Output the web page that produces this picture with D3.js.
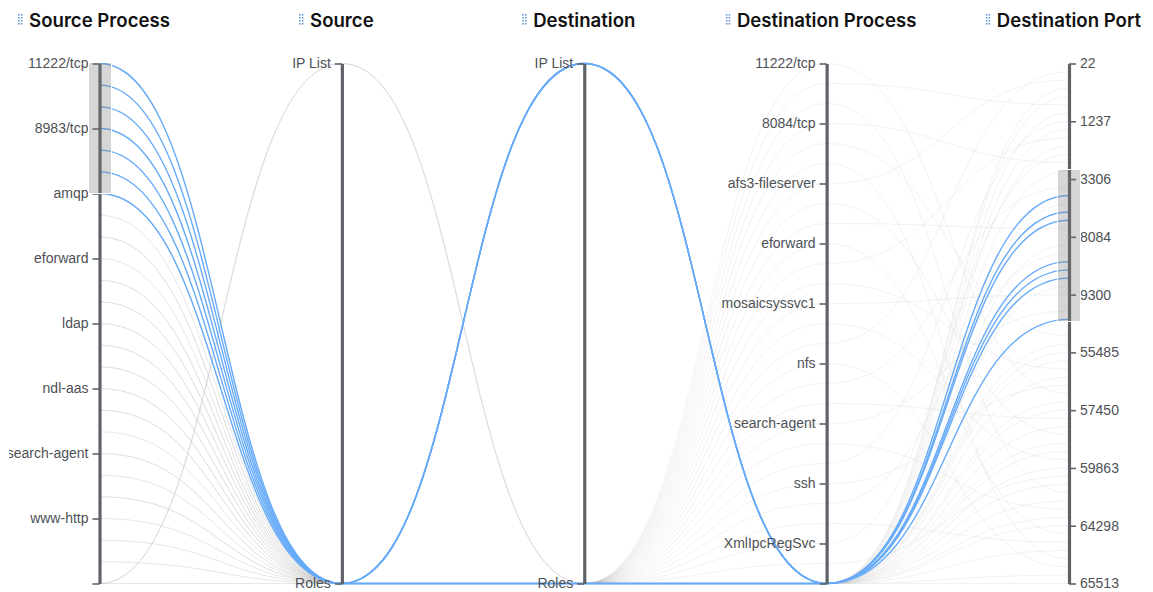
<!DOCTYPE html>
<html>
<head>
<meta charset="utf-8">
<script src="https://cdn.jsdelivr.net/npm/d3@7"></script>
<style>
  html, body { margin: 0; padding: 0; background: #fff; }
  svg { display: block; }
  .tick text { font-family: "Liberation Sans", Arial, sans-serif; font-size: 14px; fill: #4d5156; }
  .header { font-family: Inter, "Noto Sans", sans-serif; font-size: 18.6px; font-weight: 600; fill: #111; }
</style>
</head>
<body>
<svg id="chart" width="1153" height="592"></svg>
<script>
// ---------------- data ----------------
const dimensions = ["Source Process", "Source", "Destination", "Destination Process", "Destination Port"];

const sourceProcesses = ["11222/tcp","27017/tcp","8080/tcp","8983/tcp","9200/tcp","afs3-fileserver","amqp",
  "bootps","domain","eforward","http","https","ldap","microsoft-ds","msrpc","ndl-aas","nfs","ntp",
  "search-agent","smtp","ssh","www-http","XmlIpcRegSvc","zabbix-agent",""];
const sources = ["IP List", "Roles"];
const destinations = ["IP List", "Roles"];
const destinationProcesses = ["11222/tcp","27017/tcp","5432/tcp","8084/tcp","8983/tcp","9200/tcp",
  "afs3-fileserver","amqp","bgp","eforward","http","https","mosaicsyssvc1","msrpc","netbios-ssn","nfs",
  "ntp","rpcbind","search-agent","smtp","snmp","ssh","wbem-http","www-http","XmlIpcRegSvc","zabbix-agent",""];
const destinationPorts = ["22","53","80","88","135","443","445","1237","1433","1521","2049","2181","2379",
  "3268","3306","3389","5432","5672","6379","8080","8082","8084","8443","8983","9000","9042","9090","9200",
  "9300","11222","27017","49152","49667","50000","52311","55485","55612","55890","56134","56478","56902",
  "57215","57450","57681","58012","58340","58765","59120","59504","59863","60211","61035","61890","62547",
  "63102","63785","64298","64512","64730","64981","65102","65277","65409","65513"];

// tick label step per axis (every n-th category labelled)
const tickEvery = [3, 1, 1, 3, 7];

// highlighted connections
const hiSourceProcess = ["11222/tcp","27017/tcp","8080/tcp","8983/tcp","9200/tcp","afs3-fileserver","amqp"];
const hiSource = ["Roles","Roles","Roles","Roles","Roles","Roles","Roles"];
const hiDestination = ["IP List","Roles","IP List","Roles","IP List","Roles","IP List"];
const hiDestinationProcess = ["","","","","","",""];
const hiDestinationPort = ["5432","6379","8080","9000","9042","9090","49152"];

// other connections (indices into the category lists)
const bgSourceProcess = [7,8,9,10,11,12,13,14,15,16,17,18,19,20,21,22,23,24,24,24,8,10,12,14,16,18,
  7,9,11,13,15,17,19,21,23,24,24,24,6,6,8,10,12,14,16,18,20,22,20,11,13,15];
const bgSource = [1,1,1,1,1,1,1,1,1,1,1,1,1,1,1,1,1,0,0,0,1,1,1,1,1,1,
  1,1,1,1,1,1,1,1,1,0,1,1,1,1,1,1,1,1,1,1,1,1,1,1,1,1];
const bgDestination = [1,1,1,1,1,1,1,1,1,1,1,1,1,1,1,1,1,1,1,1,1,1,1,1,1,1,
  1,1,1,1,1,1,1,1,1,1,1,1,1,1,1,1,1,1,1,1,1,1,1,1,1,1];
const bgDestinationProcess = [0,1,2,3,4,5,6,7,8,9,10,11,12,13,14,15,16,17,18,19,20,21,22,23,24,25,
  26,26,26,26,26,26,26,26,26,26,26,26,26,26,26,26,26,26,26,26,26,26,26,26,26,26];
const bgDestinationPort = [40,5,52,12,33,60,2,45,20,57,9,37,28,48,1,61,15,43,30,54,7,39,23,58,11,50,
  34,35,36,38,41,42,44,46,47,49,51,53,55,56,59,62,63,3,4,6,8,10,13,17,22,27];

// brushed ranges (first / last category inside the brush)
const brushSourceProcess = ["11222/tcp", "amqp"];
const brushDestinationPort = ["3268", "49152"];

// ---------------- build ----------------
const categories = [sourceProcesses, sources, destinations, destinationProcesses, destinationPorts];
const records = [];
hiSourceProcess.forEach((d, i) => records.push([d, hiSource[i], hiDestination[i], hiDestinationProcess[i], hiDestinationPort[i]]));
bgSourceProcess.forEach((d, i) => records.push([
  sourceProcesses[d], sources[bgSource[i]], destinations[bgDestination[i]],
  destinationProcesses[bgDestinationProcess[i]], destinationPorts[bgDestinationPort[i]]
]));

const svg = d3.select("#chart");
svg.append("defs").append("clipPath").attr("id", "leftClip")
  .append("rect").attr("x", -90.5).attr("y", 0).attr("width", 200).attr("height", 592);

const x = d3.scalePoint().domain(dimensions).range([99.5, 1069]);
const y = categories.map(c => d3.scalePoint().domain(c).range([63.5, 583.5]));

const line = d3.line().curve(d3.curveBumpX);
const pathFor = r => line(dimensions.map((dim, i) => [x(dim), y[i](r[i])]));

const brushSel = { 0: [y[0](brushSourceProcess[0]) - 1.5, y[0](brushSourceProcess[1])],
                   4: [y[4](brushDestinationPort[0]) - 1.5, y[4](brushDestinationPort[1]) + 2.5] };
const isActive = r => Object.keys(brushSel).every(k => {
  const v = y[k](r[k]); return v >= brushSel[k][0] && v <= brushSel[k][1];
});

const gBg = svg.append("g");
const gFg = svg.append("g");

function render() {
  gBg.selectAll("path").data(records.filter(r => !isActive(r))).join("path")
    .attr("d", pathFor).attr("fill", "none")
    .attr("stroke", "#bdbdbd").attr("stroke-opacity", 0.2).attr("stroke-width", 1);
  gFg.selectAll("path").data(records.filter(isActive)).join("path")
    .attr("d", pathFor).attr("fill", "none")
    .attr("stroke", "#67abf8").attr("stroke-width", 1.4);
}
render();

// axes
dimensions.forEach((dim, i) => {
  const cats = categories[i];
  const tv = cats.filter((c, j) => j % tickEvery[i] === 0 || j === cats.length - 1);
  const last = i === dimensions.length - 1;
  const axis = (last ? d3.axisRight(y[i]) : d3.axisLeft(y[i]))
    .tickValues(tv).tickSize(7).tickSizeOuter(0).tickPadding(4);
  const g = svg.append("g").attr("transform", `translate(${x(dim)},0)`).call(axis);
  if (i === 0) g.attr("clip-path", "url(#leftClip)");
  g.select(".domain").attr("stroke", "#5f6368").attr("stroke-width", 3.2);
  g.selectAll(".tick line").attr("stroke", "#5f6368").attr("stroke-width", 1.6);
  g.selectAll(".tick text").attr("fill", "#4d5156").attr("font-family", null).attr("font-size", null);

  if (brushSel[i]) {
    const brush = d3.brushY().extent([[-11.5, 60], [11.5, 587]])
      .on("brush end", ev => { if (ev.sourceEvent && ev.selection) { brushSel[i] = ev.selection; render(); } });
    const bg = svg.append("g").attr("transform", `translate(${x(dim)},0)`).call(brush);
    bg.call(brush.move, brushSel[i]);
  }

  // header
  const hx = x(dim);
  const t = svg.append("text").attr("class", "header").attr("x", hx).attr("y", 27)
    .attr("text-anchor", "middle").text(dim);
  const w = t.node().getComputedTextLength();
  const left = hx - w / 2 - 7;
  const dots = [];
  for (let c = 0; c < 2; c++) for (let r = 0; r < 4; r++) dots.push([c, r]);
  svg.append("g").selectAll("rect").data(dots).join("rect")
    .attr("x", d => left - 4 + d[0] * 2.8).attr("y", d => 14 + d[1] * 3)
    .attr("width", 1.6).attr("height", 1.6).attr("fill", "#6a9ad8");
});
</script>
</body>
</html>
